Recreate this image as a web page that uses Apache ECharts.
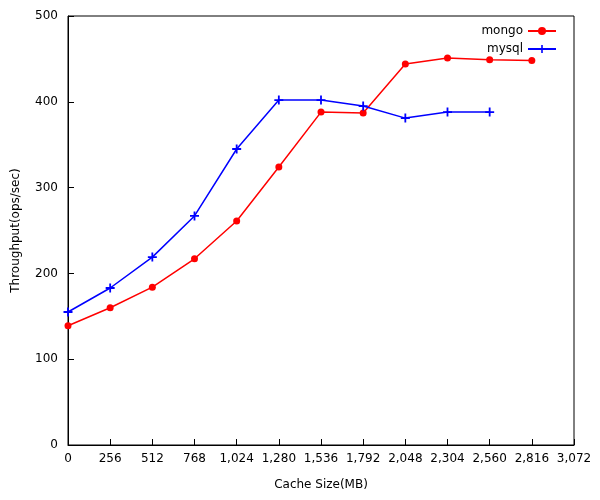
<!DOCTYPE html>
<html>
<head>
<meta charset="UTF-8"/>
<script src="https://cdn.jsdelivr.net/npm/echarts@6/dist/echarts.min.js"></script>
</head>
<body style="margin:0">
<div id="main" style="width:600px;height:500px"></div>
<script>
var cacheSizes = [0, 256, 512, 768, 1024, 1280, 1536, 1792, 2048, 2304, 2560, 2816];
var mongo = [139, 160, 184, 217, 261, 324, 388, 387, 444, 451, 449, 448];
var mysql = [155, 183, 219, 267, 345, 402, 402, 395, 381, 388, 388];

function pairs(xs, ys) {
    var out = [];
    for (var i = 0; i < ys.length; i++) out.push([xs[i], ys[i]]);
    return out;
}

var chart = echarts.init(document.getElementById('main'));
var font = 'DejaVu Sans';
chart.setOption({
    animation: false,
    textStyle: { fontFamily: font, color: '#000' },
    grid: { left: 68, right: 26, top: 16, bottom: 55, show: true, borderColor: '#000', borderWidth: 1 },
    legend: {
        orient: 'vertical', right: 38, top: 20, align: 'right',
        itemWidth: 28, itemHeight: 10, itemGap: 6,
        textStyle: { fontFamily: font, fontSize: 12, color: '#000' },
        data: ['mongo', 'mysql']
    },
    xAxis: {
        type: 'value', min: 0, max: 3072, interval: 256,
        name: 'Cache Size(MB)', nameLocation: 'middle', nameGap: 34,
        nameTextStyle: { fontSize: 12, color: '#000' },
        axisLine: { lineStyle: { color: '#000' } },
        axisTick: { inside: true, length: 6, lineStyle: { color: '#000' } },
        axisLabel: { color: '#000', fontSize: 12, margin: 8 },
        splitLine: { show: false }
    },
    yAxis: {
        type: 'value', min: 0, max: 500, interval: 100,
        name: 'Throughput(ops/sec)', nameLocation: 'middle', nameGap: 46,
        nameTextStyle: { fontSize: 12, color: '#000' },
        axisLine: { show: true, lineStyle: { color: '#000' } },
        axisTick: { inside: true, length: 6, lineStyle: { color: '#000' } },
        axisLabel: { color: '#000', fontSize: 12, margin: 10 },
        splitLine: { show: false }
    },
    series: [
        {
            name: 'mongo', type: 'line', data: pairs(cacheSizes, mongo),
            color: '#ff0000', symbol: 'circle', symbolSize: 7,
            lineStyle: { width: 1.5 }
        },
        {
            name: 'mysql', type: 'line', data: pairs(cacheSizes, mysql),
            color: '#0000ff',
            symbol: 'path://M4,0H6V4H10V6H6V10H4V6H0V4H4Z', symbolSize: 9,
            lineStyle: { width: 1.5 }
        }
    ]
});
</script>
</body>
</html>
